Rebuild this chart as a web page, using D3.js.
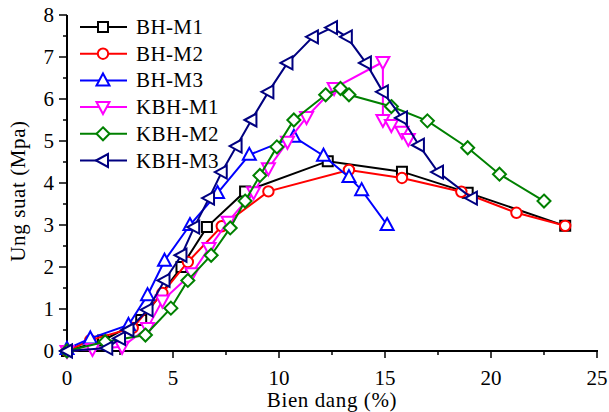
<!DOCTYPE html>
<html><head><meta charset="utf-8">
<script src="https://cdn.jsdelivr.net/npm/d3@7"></script>
<style>html,body{margin:0;padding:0;background:#fff;}svg{display:block;}</style>
</head><body>
<svg id="chart" width="609" height="412"></svg>
<script>
const seriesNames = ["BH-M1","BH-M2","BH-M3","KBH-M1","KBH-M2","KBH-M3"];
const seriesColors = ["#000000","#ff0000","#0000ff","#ff00ff","#008000","#000080"];
const seriesMarkers = ["square","circle","triUp","triDown","diamond","triLeft"];

const bhM1X = [0,1.7,3.5,5.4,6.6,8.4,12.3,15.8,18.9,23.5];
const bhM1Y = [0,0.25,0.74,2.0,2.95,3.8,4.52,4.27,3.77,2.98];
const bhM2X = [0,1.1,3.1,4.5,5.7,7.3,9.5,13.3,15.8,18.6,21.2,23.5];
const bhM2Y = [0,0.26,0.55,1.38,2.12,2.97,3.8,4.31,4.12,3.79,3.29,2.98];
const bhM3X = [0,1.1,2.9,3.8,4.6,5.8,7.1,8.6,10.7,12.1,13.3,13.9,15.1];
const bhM3Y = [0.05,0.3,0.62,1.33,2.15,3.0,3.76,4.67,5.1,4.65,4.14,3.83,3.0];
const kbhM1X = [0,1.2,2.6,3.8,4.5,5.9,6.7,7.6,8.8,9.5,10.4,11.3,12.6,14.9,14.9,15.3,15.8,16.1];
const kbhM1Y = [0,0.05,0.1,0.55,1.2,1.85,2.45,3.08,3.78,4.35,4.98,5.57,6.26,6.88,5.5,5.38,5.22,5.05];
const kbhM2X = [0,1.8,3.7,4.9,5.7,6.8,7.7,8.4,9.1,9.9,10.7,12.2,12.9,13.3,15.3,17.0,18.9,20.4,22.5];
const kbhM2Y = [0,0.22,0.38,1.02,1.68,2.28,2.93,3.57,4.18,4.86,5.5,6.1,6.25,6.1,5.82,5.48,4.84,4.21,3.57];
const kbhM3X = [0,1.9,2.5,2.9,3.8,4.6,5.4,6.0,6.7,7.3,8.0,8.7,9.5,10.4,11.6,12.5,13.2,14.1,14.9,15.8,16.6,17.5,19.1];
const kbhM3Y = [0,0.07,0.3,0.5,0.98,1.68,2.28,2.95,3.64,4.26,4.88,5.5,6.17,6.86,7.48,7.7,7.48,6.86,6.17,5.55,4.9,4.26,3.64];

const xTicks = [0,5,10,15,20,25];
const yTicks = [0,1,2,3,4,5,6,7,8];
const xTitle = "Bien dang (%)";
const yTitle = "Ung suat (Mpa)";

const seriesX = [bhM1X,bhM2X,bhM3X,kbhM1X,kbhM2X,kbhM3X];
const seriesY = [bhM1Y,bhM2Y,bhM3Y,kbhM1Y,kbhM2Y,kbhM3Y];

const svg = d3.select("#chart");
const font = "'Liberation Serif','Times New Roman',serif";
const x = d3.scaleLinear().domain([0,25]).range([67,597]);
const y = d3.scaleLinear().domain([0,8]).range([351,15]);

function markerPath(type){
  const s = 5.5;
  switch(type){
    case "square": return `M${-s+0.5},${-s+0.5}H${s-0.5}V${s-0.5}H${-s+0.5}Z`;
    case "circle": return d3.symbol().type(d3.symbolCircle).size(85)();
    case "triUp": return `M0,${-s-1.5}L${s+1},${s-0.5}L${-s-1},${s-0.5}Z`;
    case "triDown": return `M0,${s+1.5}L${s+1},${-s+0.5}L${-s-1},${-s+0.5}Z`;
    case "diamond": return `M0,${-s-1}L${s+1},0L0,${s+1}L${-s-1},0Z`;
    case "triLeft": return `M${-s-1.5},0L${s-0.5},${-s-1}L${s-0.5},${s+1}Z`;
  }
}

// axes
const xAxis = svg.append("g").attr("transform",`translate(0,${y(0)})`);
xAxis.append("line").attr("x1",x(0)-1).attr("x2",x(25)+1).attr("stroke","#000").attr("stroke-width",2);
d3.range(0,25.01,2.5).forEach(v=>{
  const major = Math.abs(v%5)<1e-6;
  xAxis.append("line").attr("x1",x(v)).attr("x2",x(v)).attr("y1",0).attr("y2",major?7:4).attr("stroke","#000").attr("stroke-width",1.5);
});
xTicks.forEach(v=>{
  xAxis.append("text").attr("x",x(v)).attr("y",34).attr("text-anchor","middle")
    .attr("font-family",font).attr("font-size",21).text(v);
});
svg.append("text").attr("x",x(12.5)).attr("y",407).attr("text-anchor","middle")
  .attr("font-family",font).attr("font-size",21).attr("letter-spacing",0.6).text(xTitle);

const yAxis = svg.append("g").attr("transform",`translate(${x(0)},0)`);
yAxis.append("line").attr("y1",y(0)+1).attr("y2",y(8)).attr("stroke","#000").attr("stroke-width",2);
d3.range(0,8.01,0.5).forEach(v=>{
  const major = Math.abs(v%1)<1e-6;
  yAxis.append("line").attr("y1",y(v)).attr("y2",y(v)).attr("x1",0).attr("x2",major?-8:-4).attr("stroke","#000").attr("stroke-width",1.5);
});
yTicks.forEach(v=>{
  yAxis.append("text").attr("x",-13).attr("y",y(v)+7).attr("text-anchor","end")
    .attr("font-family",font).attr("font-size",21).text(v);
});
svg.append("text").attr("transform",`translate(25,${191}) rotate(-90)`).attr("text-anchor","middle")
  .attr("font-family",font).attr("font-size",21).attr("letter-spacing",0.6).text(yTitle);

// series
const line = d3.line().x(d=>x(d[0])).y(d=>y(d[1]));
seriesNames.forEach((name,i)=>{
  const pts = seriesX[i].map((v,j)=>[v,seriesY[i][j]]);
  const g = svg.append("g");
  g.append("path").attr("d",line(pts)).attr("fill","none").attr("stroke",seriesColors[i]).attr("stroke-width",2);
  g.selectAll("path.m").data(pts).enter().append("path").attr("class","m")
    .attr("d",markerPath(seriesMarkers[i]))
    .attr("transform",d=>`translate(${x(d[0])},${y(d[1])})`)
    .attr("fill","#fff").attr("stroke",seriesColors[i]).attr("stroke-width",2);
});

// legend
const leg = svg.append("g");
seriesNames.forEach((name,i)=>{
  const yy = 27 + i*26.7;
  leg.append("line").attr("x1",80).attr("x2",127).attr("y1",yy).attr("y2",yy).attr("stroke",seriesColors[i]).attr("stroke-width",2);
  leg.append("path").attr("d",markerPath(seriesMarkers[i])).attr("transform",`translate(103,${yy})`)
    .attr("fill","#fff").attr("stroke",seriesColors[i]).attr("stroke-width",2);
  leg.append("text").attr("x",136).attr("y",yy+7).attr("font-family",font).attr("font-size",21).attr("letter-spacing",0.4).text(name);
});
</script>
</body></html>
